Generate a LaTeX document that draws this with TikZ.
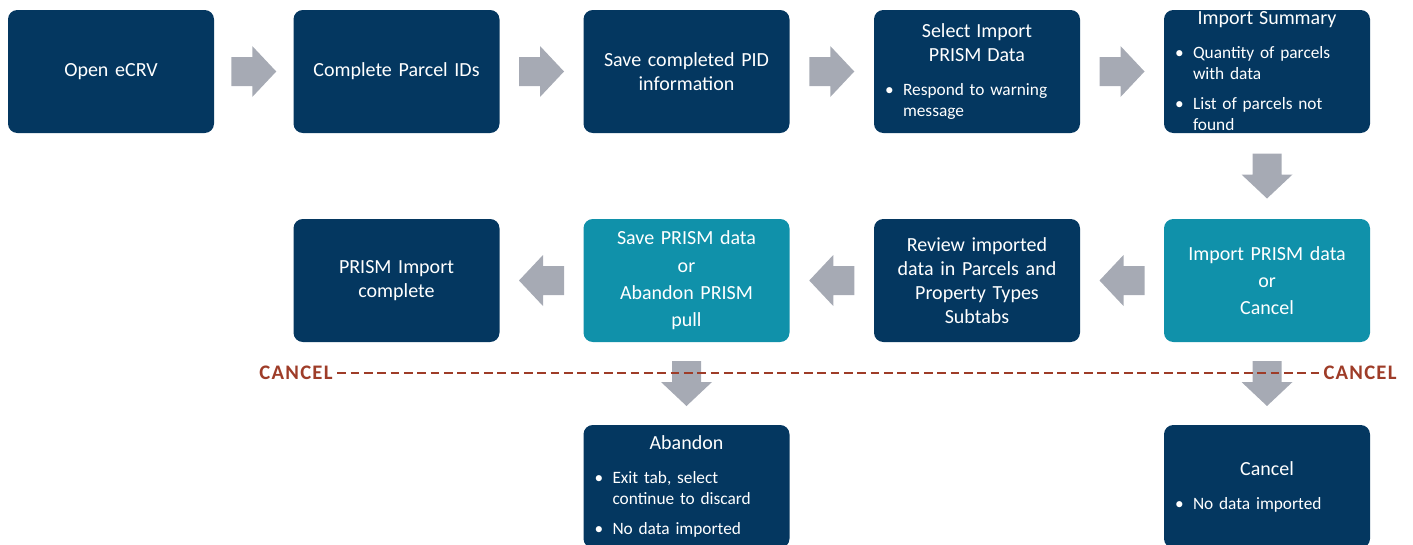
\documentclass[tikz,border=0pt]{standalone}
\usepackage{fontspec}
\setmainfont{Carlito}
\usetikzlibrary{calc}

\definecolor{navyblue}{RGB}{4,55,96}
\definecolor{tealblue}{RGB}{16,145,170}
\definecolor{arrowgray}{RGB}{166,170,180}
\definecolor{cancelred}{RGB}{158,60,40}

\newcommand{\btitle}[1]{{\centering\fontsize{15}{18}\selectfont #1\par}\vspace{3pt}}
\newcommand{\bpt}[1]{\par\vspace{6.75pt}\hangindent=13.5pt\hangafter=1\noindent\hbox to 13.5pt{\textbullet\hfil}#1\par}

\tikzset{
  barrow/.pic={\fill[arrowgray] (-22.5,-14.5) -- (-1.5,-14.5) -- (-1.5,-25.5) -- (22.5,0) -- (-1.5,25.5) -- (-1.5,14.5) -- (-22.5,14.5) -- cycle;}
}

\begin{document}
\begin{tikzpicture}[x=0.75pt,y=-0.75pt,
  stepbox/.style={rounded corners=7pt, fill=navyblue, text=white, minimum width=154.5pt, minimum height=92.25pt, inner sep=0pt, text width=138pt, align=center, font=\fontsize{15}{18}\selectfont},
  tealbox/.style={stepbox, fill=tealblue, font=\fontsize{15}{20.5}\selectfont},
  listbox/.style={stepbox, align=left, font=\fontsize{13}{15.75}\selectfont},
  cancellabel/.style={text=cancelred, font={\fontsize{15.5}{18}\selectfont\bfseries\addfontfeature{LetterSpace=6}}},
  cancelline/.style={cancelred, line width=1pt, dash pattern=on 6.5pt off 3.5pt}]
    \useasboundingbox (0,0) rectangle (1413,544);

    % top row
    \node[stepbox] (open) at (111,71.5) {Open eCRV};
    \node[stepbox] (parcel) at (396.5,71.5) {Complete Parcel IDs};
    \node[stepbox] (savepid) at (686.5,71.5) {Save completed PID\\information};
    \node[listbox] (select) at (977,71.5) {\btitle{Select Import\\PRISM Data}\bpt{Respond to warning\newline message}};
    \node[listbox] (summary) at (1267,71.5) {\btitle{Import Summary}\bpt{Quantity of parcels\newline with data}\bpt{List of parcels not\newline found}};

    % middle row
    \node[stepbox] (done) at (396.5,280.5) {PRISM Import\\complete};
    \node[tealbox] (savepull) at (686.5,280.5) {Save PRISM data\\or\\Abandon PRISM\\pull};
    \node[stepbox] (review) at (977,280.5) {Review imported\\data in Parcels and\\Property Types\\Subtabs};
    \node[tealbox] (importdata) at (1267,280.5) {Import PRISM data\\or\\Cancel};

    % bottom row
    \node[listbox] (abandon) at (686.5,486.5) {\btitle{Abandon}\bpt{Exit tab, select\newline continue to discard}\bpt{No data imported}};
    \node[listbox] (cancel) at (1267,486.5) {\btitle{Cancel}\bpt{No data imported}};

    % block arrows
    \pic at ($(open.east)!0.5!(parcel.west)$) {barrow};
    \pic at ($(parcel.east)!0.5!(savepid.west)$) {barrow};
    \pic at ($(savepid.east)!0.5!(select.west)$) {barrow};
    \pic at ($(select.east)!0.5!(summary.west)$) {barrow};
    \pic[rotate=-90] at ($(summary.south)!0.5!(importdata.north)$) {barrow};
    \pic[rotate=180] at ($(importdata.west)!0.5!(review.east)$) {barrow};
    \pic[rotate=180] at ($(review.west)!0.5!(savepull.east)$) {barrow};
    \pic[rotate=180] at ($(savepull.west)!0.5!(done.east)$) {barrow};
    \pic[rotate=-90] at ($(savepull.south)!0.5!(abandon.north)$) {barrow};
    \pic[rotate=-90] at ($(importdata.south)!0.5!(cancel.north)$) {barrow};

    % cancel line
    \node[cancellabel] (cancelleft) at (296,373) {CANCEL};
    \node[cancellabel] (cancelright) at (1360,373) {CANCEL};
    \draw[cancelline] (cancelleft.east) -- (cancelright.west);
\end{tikzpicture}
\end{document}
